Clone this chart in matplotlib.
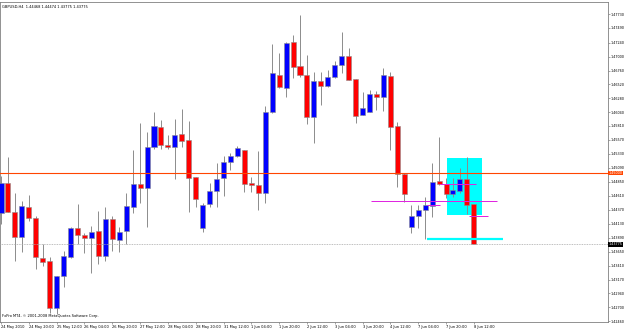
"""GBPUSD H4 candlestick chart in the MetaTrader 4 look."""

import matplotlib.pyplot as plt
from matplotlib.patches import Rectangle

# --- data: one entry per H4 bar, 24 May 2010 04:00 .. 8 Jun 2010 12:00 ---
opens = [
    1.44319, 1.44834, 1.44326, 1.43897, 1.44422, 1.44228, 1.43536, 1.43485, 1.42678, 1.43232,
    1.43564, 1.44056, 1.43936, 1.43879, 1.44010, 1.43576, 1.44216, 1.43850, 1.44005, 1.44422,
    1.44812, 1.44743, 1.45441, 1.45795, 1.45481, 1.45441, 1.45665, 1.45567, 1.44927, 1.44056,
    1.44463, 1.44696, 1.44909, 1.45194, 1.45292, 1.45395, 1.44824, 1.44799, 1.44652, 1.46047,
    1.46683, 1.46465, 1.47249, 1.46837, 1.46677, 1.45956, 1.46585, 1.46494, 1.46643, 1.46854,
    1.47009, 1.46609, 1.45996, 1.46047, 1.46356, 1.46310, 1.46671, 1.45807, 1.44983, 1.44079,
    1.44262, 1.44365, 1.44439, 1.44863, 1.44812, 1.44640, 1.44696, 1.44892, 1.44468,
]
highs = [
    1.44949, 1.45270, 1.44662, 1.44525, 1.44623, 1.44262, 1.43782, 1.43564, 1.43240, 1.43667,
    1.44073, 1.44463, 1.43970, 1.44091, 1.44348, 1.44412, 1.44262, 1.44079, 1.44652, 1.45395,
    1.45853, 1.45709, 1.46042, 1.45910, 1.45653, 1.45922, 1.46094, 1.45893, 1.44940, 1.44485,
    1.44834, 1.45167, 1.45292, 1.45338, 1.45464, 1.45400, 1.44927, 1.45378, 1.46150, 1.47215,
    1.47065, 1.47254, 1.47369, 1.47713, 1.47026, 1.46739, 1.46739, 1.46768, 1.46928, 1.47416,
    1.47141, 1.46615, 1.46396, 1.46425, 1.46416, 1.46798, 1.46739, 1.45881, 1.44995, 1.44451,
    1.44451, 1.44593, 1.45177, 1.45613, 1.44909, 1.44909, 1.45081, 1.45270, 1.44474,
]
lows = [
    1.44125, 1.44331, 1.43495, 1.43649, 1.44182, 1.43347, 1.43404, 1.42592, 1.42580, 1.43049,
    1.43541, 1.43782, 1.43632, 1.43289, 1.43438, 1.43495, 1.43667, 1.43649, 1.43782, 1.44319,
    1.44490, 1.44068, 1.45407, 1.45407, 1.45407, 1.44892, 1.45441, 1.44336, 1.44422, 1.43988,
    1.44422, 1.44422, 1.44605, 1.45052, 1.45280, 1.44679, 1.44679, 1.44365, 1.44490, 1.46035,
    1.46460, 1.46300, 1.46626, 1.46643, 1.45841, 1.45510, 1.46168, 1.46480, 1.46631, 1.46722,
    1.46590, 1.45853, 1.45990, 1.46040, 1.46082, 1.46070, 1.45395, 1.44755, 1.44508, 1.43976,
    1.44051, 1.43862, 1.44250, 1.44794, 1.44566, 1.44593, 1.44662, 1.44297, 1.43775,
]
closes = [
    1.44834, 1.44336, 1.43902, 1.44434, 1.44223, 1.43553, 1.43478, 1.42678, 1.43232, 1.43576,
    1.44056, 1.43936, 1.43879, 1.43993, 1.43576, 1.44216, 1.43862, 1.43988, 1.44434, 1.44806,
    1.44743, 1.45441, 1.45807, 1.45481, 1.45441, 1.45658, 1.45555, 1.44909, 1.44554, 1.44451,
    1.44696, 1.44902, 1.45194, 1.45292, 1.45424, 1.44812, 1.44799, 1.44652, 1.46053, 1.46712,
    1.46471, 1.47237, 1.46825, 1.46677, 1.45967, 1.46585, 1.46494, 1.46643, 1.46854, 1.47014,
    1.46597, 1.45984, 1.46111, 1.46356, 1.46310, 1.46683, 1.45785, 1.44983, 1.44640, 1.44262,
    1.44365, 1.44446, 1.44851, 1.44812, 1.44640, 1.44708, 1.44892, 1.44451, 1.43775,
]

date_labels = [
    "24 May 2010", "24 May 20:00", "25 May 12:00", "26 May 04:00", "26 May 20:00",
    "27 May 12:00", "28 May 04:00", "28 May 20:00", "31 May 12:00", "1 Jun 04:00",
    "1 Jun 20:00", "2 Jun 12:00", "3 Jun 04:00", "3 Jun 20:00", "4 Jun 12:00",
    "7 Jun 04:00", "7 Jun 20:00", "8 Jun 12:00",
]
price_ticks = [
    1.47730, 1.47490, 1.47240, 1.47000, 1.46760, 1.46520, 1.46280, 1.46040,
    1.45810, 1.45570, 1.45330, 1.45090, 1.44850, 1.44610, 1.44370, 1.44130,
    1.43890, 1.43650, 1.43410, 1.43170, 1.42940, 1.42700, 1.42460,
]

level_price = 1.45000
bid_price = 1.43775

BULL = "#0000FF"
BEAR = "#FF0000"
WICK = "#8c8c8c"
FS = 2.6
YFS = 2.4

fig = plt.figure(figsize=(6.25, 3.3), dpi=100)
ax = fig.add_axes([0.0, 8 / 330, 608 / 625, 320 / 330])
ax.set_xlim(-0.15, 87.3)
ax.set_ylim(1.42443, 1.47936)

# drawn objects behind the bars
ax.add_patch(Rectangle((64.2, 1.44285), 5.0, 1.45263 - 1.44285,
                       facecolor="#00FFFF", edgecolor="none", zorder=1))

for i, (o, h, l, c) in enumerate(zip(opens, highs, lows, closes)):
    ax.vlines(i, l, h, color=WICK, linewidth=0.7, zorder=2)
    col = BULL if c >= o else BEAR
    ax.bar(i, c - o if abs(c - o) > 1e-5 else 1e-5, bottom=o, width=0.72,
           color=col, edgecolor=WICK, linewidth=0.4, zorder=3)

ax.axhline(level_price, color="#FF4500", linewidth=0.8, zorder=4)
ax.axhline(bid_price, color="#a8a8a8", linewidth=0.6, linestyle=(0, (1, 1)), zorder=4)

ax.hlines(1.44515, 53.2, 71.3, color="#E020E0", linewidth=0.7, zorder=4)
ax.hlines(1.44806, 63.1, 68.3, color="#E020E0", linewidth=0.7, zorder=4)
ax.hlines(1.44456, 61.2, 63.2, color="#E020E0", linewidth=0.7, zorder=4)
ax.hlines(1.44262, 67.3, 70.1, color="#E020E0", linewidth=0.7, zorder=4)
ax.hlines(1.43867, 61.2, 72.2, color="#00FFFF", linewidth=1.6, zorder=4)

# axes styling
for side in ax.spines.values():
    side.set_color("#808080")
    side.set_linewidth(0.6)

ax.yaxis.tick_right()
ax.set_yticks(price_ticks)
ax.set_yticklabels([f"{p:.5f}" for p in price_ticks])
ax.tick_params(axis="y", length=1.2, width=0.5, pad=0.6, labelsize=YFS, color="#808080")

ax.set_xticks(range(0, 4 * len(date_labels), 4))
ax.set_xticklabels(date_labels)
ax.tick_params(axis="x", length=1.5, width=0.5, pad=1, labelsize=FS, color="#808080")
for lab in ax.get_xticklabels():
    lab.set_horizontalalignment("left")

ytr = ax.get_yaxis_transform()
tag_box = dict(boxstyle="square,pad=0.08", ec="none")
ax.text(1.001, level_price, f"{level_price:.5f}", transform=ytr, fontsize=YFS,
        color="white", ha="left", va="center",
        bbox=dict(tag_box, fc="#FF4500"), clip_on=False)
ax.text(1.001, bid_price, f"{bid_price:.5f}", transform=ytr, fontsize=YFS,
        color="white", ha="left", va="center",
        bbox=dict(tag_box, fc="black"), clip_on=False)

ax.text(0.004, 0.992, "GBPUSD,H4  1.44468 1.44474 1.43775 1.43775",
        transform=ax.transAxes, fontsize=FS, ha="left", va="top")
ax.text(0.004, 0.012, "FxPro MT4, \u00a9 2001-2008 MetaQuotes Software Corp.",
        transform=ax.transAxes, fontsize=FS, ha="left", va="bottom")

fig.savefig("out.png", dpi=100)
plt.close(fig)
